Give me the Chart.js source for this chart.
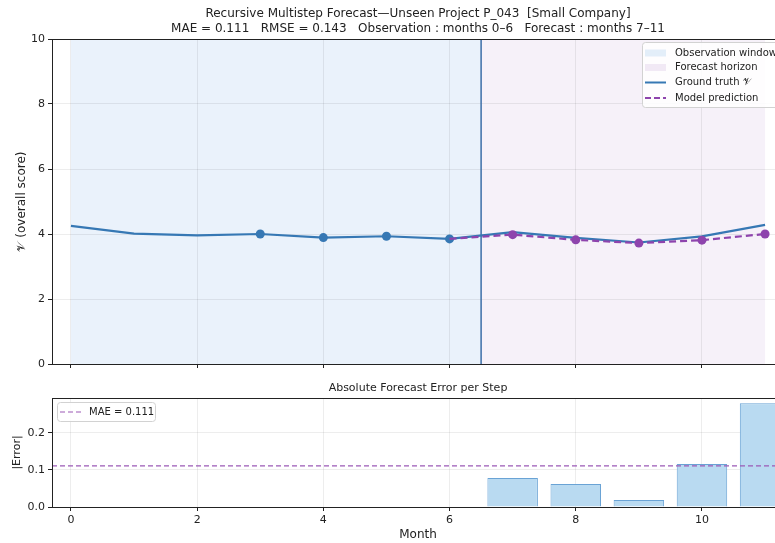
<!DOCTYPE html>
<html>
<head>
<meta charset="utf-8">
<script src="https://cdn.jsdelivr.net/npm/chart.js@4.4.1/dist/chart.umd.min.js"></script>
<style>
  html, body { margin: 0; padding: 0; background: #fff; overflow: hidden; }
  #wrap { position: relative; width: 775px; height: 543px; overflow: hidden; background: #fff; }
  #topBox { position: absolute; left: 0; top: 0; width: 800px; height: 380px; }
  #botBox { position: absolute; left: 0; top: 375px; width: 800px; height: 168px; }
</style>
</head>
<body>
<div id="wrap">
  <div id="botBox"><canvas id="errChart" width="800" height="168"></canvas></div>
  <div id="topBox"><canvas id="fcChart" width="800" height="380"></canvas></div>
</div>
<script>
// ---- data ----
const months = [0, 1, 2, 3, 4, 5, 6, 7, 8, 9, 10, 11];
const groundTruth = [4.25, 4.01, 3.96, 4.00, 3.89, 3.93, 3.85, 4.058, 3.882, 3.739, 3.926, 4.280];
const inputMonths = [3, 4, 5, 6];            // observed points fed to the model
const predMonths = [6, 7, 8, 9, 10, 11];
const predicted = [3.85, 3.98, 3.82, 3.72, 3.81, 4.00];
const errMonths = [7, 8, 9, 10, 11];
const absError = [0.078, 0.062, 0.019, 0.116, 0.280];
const MAE = 0.111;
const RMSE = 0.143;
const obsRange = [0, 6];
const fcRange = [7, 11];
const splitAt = 6.5;
const xTickVals = [0, 2, 4, 6, 8, 10];
const yTickVals = [0, 2, 4, 6, 8, 10];
const errTickVals = [0.0, 0.1, 0.2];

const FONT = "'DejaVu Sans', sans-serif";
const INK = '#222222';
const BLUE = '#3678b4';
const PURPLE = '#8e44ad';
const OBS_FILL = '#eaf2fb';
const FC_FILL = '#f6f1f9';
const GRID = 'rgba(0,0,0,0.07)';

const xScaleBase = {
  type: 'linear', min: -0.3, max: 11.3, offset: false,
  afterBuildTicks: s => { s.ticks = xTickVals.map(v => ({ value: v })); },
  grid: { color: GRID, tickColor: INK, tickLength: 4, tickWidth: 1, offset: false },
  border: { display: false }
};

// frame around the plotting area (all four spines)
const frame = {
  id: 'frame',
  afterDraw(chart) {
    const { ctx, chartArea: a } = chart;
    ctx.save();
    ctx.strokeStyle = INK; ctx.lineWidth = 1;
    ctx.strokeRect(Math.round(a.left) + 0.5, Math.round(a.top) + 0.5,
                   Math.round(a.right - a.left), Math.round(a.bottom - a.top));
    ctx.restore();
  }
};

// observation / forecast bands and the split marker
const bands = {
  id: 'bands',
  beforeDraw(chart) {
    const { ctx, chartArea: a, scales: { x } } = chart;
    ctx.save();
    ctx.fillStyle = OBS_FILL;
    ctx.fillRect(x.getPixelForValue(obsRange[0]), a.top,
                 x.getPixelForValue(splitAt) - x.getPixelForValue(obsRange[0]), a.bottom - a.top);
    ctx.fillStyle = FC_FILL;
    ctx.fillRect(x.getPixelForValue(splitAt), a.top,
                 x.getPixelForValue(fcRange[1]) - x.getPixelForValue(splitAt), a.bottom - a.top);
    ctx.restore();
  },
  beforeDatasetsDraw(chart) {
    const { ctx, chartArea: a, scales: { x } } = chart;
    const px = x.getPixelForValue(splitAt);
    ctx.save();
    ctx.strokeStyle = '#3c6ea8'; ctx.lineWidth = 1.5;
    ctx.beginPath(); ctx.moveTo(px, a.top); ctx.lineTo(px, a.bottom); ctx.stroke();
    ctx.restore();
  }
};

const topTitle = {
  id: 'topTitle',
  afterDraw(chart) {
    const { ctx, chartArea: a } = chart;
    const cx = (a.left + a.right) / 2;
    ctx.save();
    ctx.fillStyle = INK; ctx.textAlign = 'center'; ctx.textBaseline = 'middle';
    ctx.font = '12px ' + FONT;
    ctx.fillText('Recursive Multistep Forecast\u2014Unseen Project P_043  [Small Company]', cx, 14);
    ctx.fillText('MAE = ' + MAE.toFixed(3) + '   RMSE = ' + RMSE.toFixed(3) +
                 '   Observation : months ' + obsRange[0] + '\u2013' + obsRange[1] +
                 '   Forecast : months ' + fcRange[0] + '\u2013' + fcRange[1], cx, 29);
    ctx.restore();
  }
};

const topLegend = {
  id: 'topLegend',
  afterDraw(chart) {
    const { ctx } = chart;
    ctx.save();
    ctx.fillStyle = 'rgba(255,255,255,0.85)';
    ctx.strokeStyle = '#d2d2d2'; ctx.lineWidth = 1;
    ctx.beginPath();
    ctx.roundRect(642.5, 42.5, 138, 65, 3);
    ctx.fill(); ctx.stroke();
    ctx.font = '10px ' + FONT; ctx.textBaseline = 'middle'; ctx.fillStyle = INK;
    const rows = [53, 67.5, 82.5, 98];
    ctx.fillStyle = '#e3eef9'; ctx.fillRect(645, rows[0] - 3.5, 21, 7);
    ctx.fillStyle = '#f1e9f5'; ctx.fillRect(645, rows[1] - 3.5, 21, 7);
    ctx.strokeStyle = BLUE; ctx.lineWidth = 2;
    ctx.beginPath(); ctx.moveTo(645, rows[2]); ctx.lineTo(666, rows[2]); ctx.stroke();
    ctx.strokeStyle = PURPLE; ctx.setLineDash([6, 3]);
    ctx.beginPath(); ctx.moveTo(645, rows[3]); ctx.lineTo(666, rows[3]); ctx.stroke();
    ctx.setLineDash([]);
    ctx.fillStyle = INK;
    ctx.fillText('Observation window', 675, rows[0]);
    ctx.fillText('Forecast horizon', 675, rows[1]);
    ctx.fillText('Ground truth \u{1D4B1}', 675, rows[2]);
    ctx.fillText('Model prediction', 675, rows[3]);
    ctx.restore();
  }
};

new Chart(document.getElementById('fcChart'), {
  type: 'line',
  data: {
    datasets: [
      {
        label: 'Model prediction',
        data: predMonths.map((m, i) => ({ x: m, y: predicted[i] })),
        borderColor: PURPLE, backgroundColor: PURPLE,
        borderWidth: 2.2, borderDash: [7, 4],
        pointRadius: predMonths.map(m => (m >= fcRange[0] ? 4.5 : 0)),
        pointBorderWidth: 0, tension: 0
      },
      {
        label: 'Ground truth',
        data: months.map((m, i) => ({ x: m, y: groundTruth[i] })),
        borderColor: BLUE, backgroundColor: BLUE,
        borderWidth: 2.2,
        pointRadius: months.map(m => (inputMonths.includes(m) ? 4.5 : 0)),
        pointBorderWidth: 0, tension: 0
      }
    ]
  },
  options: {
    responsive: false, animation: false, events: [],
    layout: { padding: { left: 0, top: 39, right: 16, bottom: 0 } },
    plugins: { legend: { display: false }, title: { display: false }, tooltip: { enabled: false } },
    scales: {
      x: Object.assign({}, xScaleBase, {
        ticks: { color: 'rgba(0,0,0,0)', font: { family: FONT, size: 11 } },
        afterFit: s => { s.height = 16; }
      }),
      y: {
        min: 0, max: 10,
        afterBuildTicks: s => { s.ticks = yTickVals.map(v => ({ value: v })); },
        grid: { color: GRID, tickColor: INK, tickLength: 4, tickWidth: 1 },
        border: { display: false },
        ticks: { color: INK, padding: 3, font: { family: FONT, size: 11 } },
        title: { display: true, text: '\u{1D4B1} (overall score)', color: INK,
                 font: { family: FONT, size: 12 }, padding: { top: 15, bottom: 0 } },
        afterFit: s => { s.width = 52; }
      }
    }
  },
  plugins: [bands, frame, topTitle, topLegend]
});

// ---- error panel ----
const errDecor = {
  id: 'errDecor',
  afterDatasetsDraw(chart) {
    const { ctx, chartArea: a, scales: { y } } = chart;
    const py = y.getPixelForValue(MAE);
    ctx.save();
    ctx.strokeStyle = '#9b59b6'; ctx.lineWidth = 1.2; ctx.setLineDash([5, 3]);
    ctx.beginPath(); ctx.moveTo(a.left, py); ctx.lineTo(a.right, py); ctx.stroke();
    ctx.restore();
  },
  afterDraw(chart) {
    const { ctx, chartArea: a } = chart;
    ctx.save();
    ctx.fillStyle = INK; ctx.textAlign = 'center'; ctx.textBaseline = 'middle';
    ctx.font = '11px ' + FONT;
    ctx.fillText('Absolute Forecast Error per Step', (a.left + a.right) / 2, 13);
    // legend
    ctx.fillStyle = 'rgba(255,255,255,0.85)';
    ctx.strokeStyle = '#d2d2d2'; ctx.lineWidth = 1;
    ctx.beginPath(); ctx.roundRect(57.5, 27.5, 98, 19, 3); ctx.fill(); ctx.stroke();
    ctx.strokeStyle = '#9b59b6'; ctx.lineWidth = 1.2; ctx.setLineDash([5, 3]);
    ctx.beginPath(); ctx.moveTo(60, 37); ctx.lineTo(81, 37); ctx.stroke();
    ctx.setLineDash([]);
    ctx.fillStyle = INK; ctx.textAlign = 'left'; ctx.font = '10px ' + FONT;
    ctx.fillText('MAE = ' + MAE.toFixed(3), 89, 37);
    ctx.restore();
  }
};

new Chart(document.getElementById('errChart'), {
  type: 'bar',
  data: {
    datasets: [{
      label: '|Error|',
      data: errMonths.map((m, i) => ({ x: m, y: absError[i] })),
      backgroundColor: '#b9daf1', borderColor: '#6aa3d5', borderWidth: 1,
      barPercentage: 0.8, categoryPercentage: 1.0
    }]
  },
  options: {
    responsive: false, animation: false, events: [],
    layout: { padding: { left: 0, top: 23, right: 16, bottom: 0 } },
    plugins: { legend: { display: false }, title: { display: false }, tooltip: { enabled: false } },
    scales: {
      x: Object.assign({}, xScaleBase, {
        ticks: { color: INK, padding: 3, font: { family: FONT, size: 11 } },
        title: { display: true, text: 'Month', color: INK,
                 font: { family: FONT, size: 12 }, padding: { top: 0, bottom: 1 } },
        afterFit: s => { s.height = 36; }
      }),
      y: {
        min: 0, max: 0.294,
        afterBuildTicks: s => { s.ticks = errTickVals.map(v => ({ value: v })); },
        grid: { color: GRID, tickColor: INK, tickLength: 4, tickWidth: 1 },
        border: { display: false },
        ticks: { color: INK, padding: 3, font: { family: FONT, size: 11 },
                 callback: v => Number(v).toFixed(1) },
        title: { display: true, text: '|Error|', color: INK,
                 font: { family: FONT, size: 11 }, padding: { top: 11, bottom: 0 } },
        afterFit: s => { s.width = 52; }
      }
    }
  },
  plugins: [frame, errDecor]
});
</script>
</body>
</html>
